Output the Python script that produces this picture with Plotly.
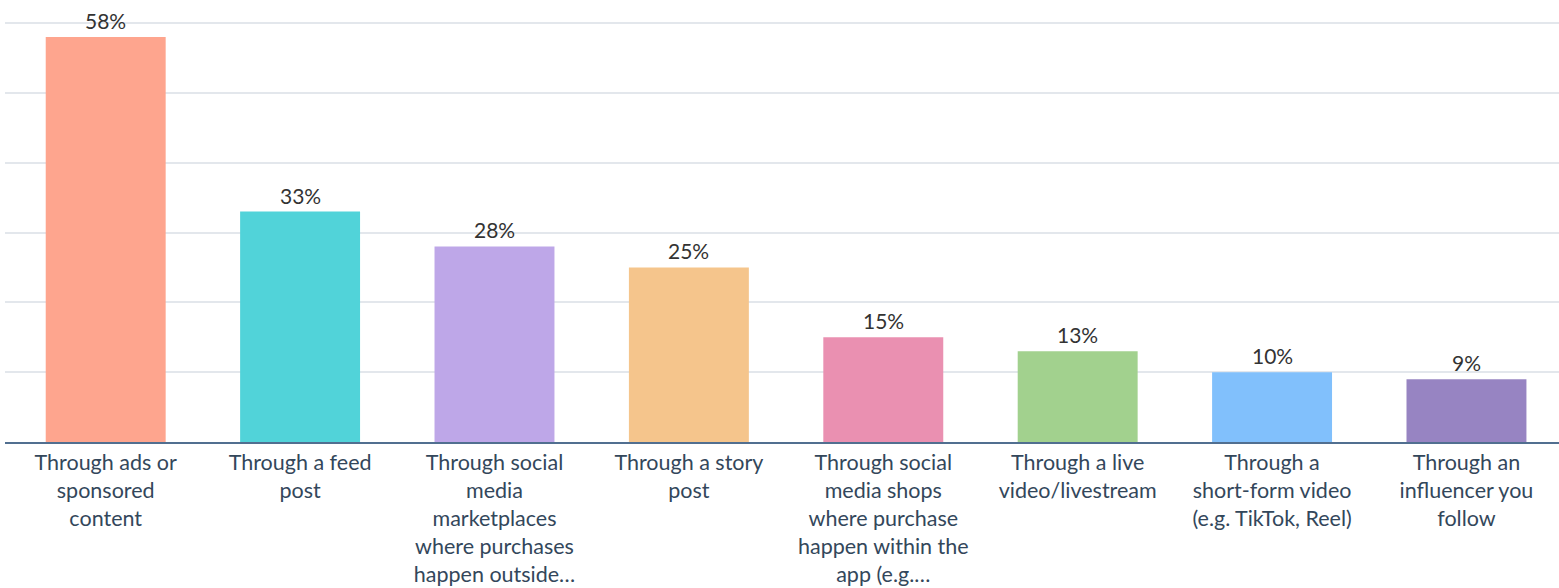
import plotly.graph_objects as go

categories = [
    "Through ads or<br>sponsored<br>content",
    "Through a feed<br>post",
    "Through social<br>media<br>marketplaces<br>where purchases<br>happen outside…",
    "Through a story<br>post",
    "Through social<br>media shops<br>where purchase<br>happen within the<br>app (e.g.…",
    "Through a live<br>video/livestream",
    "Through a<br>short-form video<br>(e.g. TikTok, Reel)",
    "Through an<br>influencer you<br>follow",
]
values = [58, 33, 28, 25, 15, 13, 10, 9]
value_labels = ["58%", "33%", "28%", "25%", "15%", "13%", "10%", "9%"]
colors = ["#FEA58E", "#51D3D9", "#BEA7E8", "#F5C58C",
          "#EA90B1", "#A2D18E", "#81C0FC", "#9784C2"]

FONT = "Lato"

fig = go.Figure(
    go.Bar(
        x=list(range(len(categories))),
        y=values,
        marker=dict(color=colors, line=dict(width=0)),
        hoverinfo="skip",
    )
)

for i, (v, lab) in enumerate(zip(values, value_labels)):
    fig.add_annotation(
        x=i, y=v, text=lab, showarrow=False,
        yanchor="bottom", yshift=2,
        font=dict(family=FONT, size=21, color="#333333"),
    )

fig.update_layout(
    width=1559, height=588,
    margin=dict(l=5, r=0, t=0, b=146, autoexpand=False),
    paper_bgcolor="white", plot_bgcolor="white",
    bargap=0.383,
    showlegend=False,
    font=dict(family=FONT),
)
fig.update_xaxes(
    range=[-0.518, 7.476],
    tickmode="array",
    tickvals=list(range(len(categories))),
    ticktext=categories,
    tickangle=0,
    tickfont=dict(family=FONT, size=21.5, color="#33475B"),
    showgrid=False, zeroline=False,
    showline=True, linecolor="#516F90", linewidth=2,
    ticks="", ticklabelstandoff=0,
    automargin=False,
    fixedrange=True,
)
fig.update_yaxes(
    range=[0, 63.3],
    tickvals=[10, 20, 30, 40, 50, 60],
    showticklabels=False,
    showgrid=True, gridcolor="#E3E7EC", gridwidth=1.5,
    zeroline=False, showline=False,
    automargin=False,
    fixedrange=True,
)

fig.write_html("out.html")
